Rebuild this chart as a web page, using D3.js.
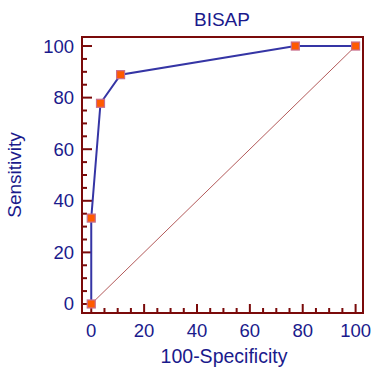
<!DOCTYPE html>
<html>
<head>
<meta charset="utf-8">
<script src="https://cdn.jsdelivr.net/npm/d3@7"></script>
<style>
  body { margin: 0; background: #fff; }
  text { font-family: "Liberation Sans", Arial, sans-serif; fill: #1a1a8c; }
</style>
</head>
<body>
<div id="chart"></div>
<script>
// ROC curve points
var fpr  = [0, 0, 3.5, 11.1, 77.2, 100];
var sens = [0, 33.3, 77.8, 88.9, 100, 100];
var majorTicks = [0, 20, 40, 60, 80, 100];
var minorTicks = d3.range(0, 101, 5);

var title  = 'BISAP';
var xLabel = '100-Specificity';
var yLabel = 'Sensitivity';

var width = 372, height = 368;
var frame = {left: 82, right: 363, top: 37, bottom: 313};

var svg = d3.select('#chart').append('svg')
  .attr('width', width)
  .attr('height', height);

var x = d3.scaleLinear().domain([-3.5, 102.8]).range([frame.left, frame.right]);
var y = d3.scaleLinear().domain([-3.5, 103.5]).range([frame.bottom, frame.top]);

var red = '#7a0a0a';

// diagonal reference line
svg.append('line')
  .attr('x1', x(0)).attr('y1', y(0))
  .attr('x2', x(100)).attr('y2', y(100))
  .attr('stroke', '#a03030')
  .attr('stroke-width', 0.8);

// ticks (inward)
svg.selectAll('.xtick')
  .data(minorTicks)
.enter().append('line')
  .attr('x1', function(d){ return x(d); })
  .attr('x2', function(d){ return x(d); })
  .attr('y1', frame.bottom)
  .attr('y2', function(d){ return frame.bottom - (d % 20 === 0 ? 9 : 5); })
  .attr('stroke', red).attr('stroke-width', 2);

svg.selectAll('.ytick')
  .data(minorTicks)
.enter().append('line')
  .attr('y1', function(d){ return y(d); })
  .attr('y2', function(d){ return y(d); })
  .attr('x1', frame.left)
  .attr('x2', function(d){ return frame.left + (d % 20 === 0 ? 10 : 5); })
  .attr('stroke', red).attr('stroke-width', 2);

// frame
svg.append('rect')
  .attr('x', frame.left).attr('y', frame.top)
  .attr('width', frame.right - frame.left)
  .attr('height', frame.bottom - frame.top)
  .attr('fill', 'none')
  .attr('stroke', red)
  .attr('stroke-width', 2);

// tick labels
svg.selectAll('.xlab')
  .data(majorTicks)
.enter().append('text')
  .attr('x', function(d){ return x(d); })
  .attr('y', 337)
  .attr('text-anchor', 'middle')
  .style('font-size', '18.5px')
  .text(function(d){ return d; });

svg.selectAll('.ylab')
  .data(majorTicks)
.enter().append('text')
  .attr('x', 74)
  .attr('y', function(d){ return y(d) + 6.5; })
  .attr('text-anchor', 'end')
  .style('font-size', '18.5px')
  .text(function(d){ return d; });

// titles
svg.append('text')
  .attr('x', 222).attr('y', 26)
  .attr('text-anchor', 'middle')
  .style('font-size', '19px')
  .text(title);

svg.append('text')
  .attr('x', 224).attr('y', 363)
  .attr('text-anchor', 'middle')
  .style('font-size', '19.5px')
  .text(xLabel);

svg.append('text')
  .attr('transform', 'translate(21,175) rotate(-90)')
  .attr('text-anchor', 'middle')
  .style('font-size', '19px')
  .text(yLabel);

// ROC line
var pts = fpr.map(function(d, i){ return {x: d, y: sens[i]}; });
svg.append('path')
  .datum(pts)
  .attr('d', d3.line().x(function(d){ return x(d.x); }).y(function(d){ return y(d.y); }))
  .attr('fill', 'none')
  .attr('stroke', '#3535a5')
  .attr('stroke-width', 2);

// markers
svg.selectAll('.pt')
  .data(pts)
.enter().append('rect')
  .attr('x', function(d){ return x(d.x) - 4; })
  .attr('y', function(d){ return y(d.y) - 4; })
  .attr('width', 8).attr('height', 8)
  .attr('fill', '#ff5a00')
  .attr('stroke', '#c86e8c')
  .attr('stroke-width', 1.2);
</script>
</body>
</html>
